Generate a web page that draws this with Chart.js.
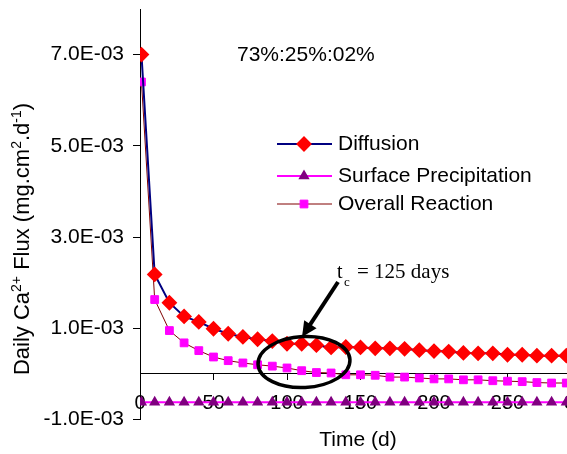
<!DOCTYPE html>
<html>
<head>
<meta charset="utf-8">
<script src="https://cdn.jsdelivr.net/npm/chart.js@4"></script>
<style>
  html, body { margin: 0; padding: 0; overflow: hidden; background: #fff; }
  #wrap { width: 600px; height: 454px; position: relative; }
</style>
</head>
<body>
<div id="wrap"><canvas id="chart"></canvas></div>
<script>
// time (d)
const days = [1, 10, 20, 30, 40, 50, 60, 70, 80, 90, 100, 110, 120, 130, 140, 150,
  160, 170, 180, 190, 200, 210, 220, 230, 240, 250, 260, 270, 280, 290, 300];

// daily Ca2+ flux (mg.cm2.d-1)
const diffusion = [7.00e-3, 2.18e-3, 1.56e-3, 1.26e-3, 1.14e-3, 0.99e-3, 0.88e-3, 0.81e-3,
  0.76e-3, 0.72e-3, 0.66e-3, 0.66e-3, 0.63e-3, 0.58e-3, 0.59e-3, 0.58e-3, 0.56e-3, 0.56e-3,
  0.55e-3, 0.52e-3, 0.50e-3, 0.49e-3, 0.46e-3, 0.45e-3, 0.45e-3, 0.42e-3, 0.42e-3, 0.40e-3,
  0.40e-3, 0.40e-3, 0.39e-3];
const surfacePrecipitation = [-0.62e-3, -0.62e-3, -0.62e-3, -0.62e-3, -0.62e-3, -0.62e-3,
  -0.62e-3, -0.62e-3, -0.62e-3, -0.62e-3, -0.62e-3, -0.62e-3, -0.62e-3, -0.62e-3, -0.62e-3,
  -0.62e-3, -0.62e-3, -0.62e-3, -0.62e-3, -0.62e-3, -0.62e-3, -0.62e-3, -0.62e-3, -0.62e-3,
  -0.62e-3, -0.62e-3, -0.62e-3, -0.62e-3, -0.62e-3, -0.62e-3, -0.62e-3];
const overallReaction = [6.40e-3, 1.63e-3, 0.95e-3, 0.68e-3, 0.51e-3, 0.37e-3, 0.29e-3,
  0.24e-3, 0.20e-3, 0.17e-3, 0.13e-3, 0.07e-3, 0.03e-3, 0.02e-3, -0.02e-3, -0.02e-3,
  -0.03e-3, -0.07e-3, -0.07e-3, -0.09e-3, -0.11e-3, -0.11e-3, -0.13e-3, -0.13e-3, -0.15e-3,
  -0.16e-3, -0.17e-3, -0.19e-3, -0.20e-3, -0.20e-3, -0.22e-3];

const yTicks = [-1e-3, 1e-3, 3e-3, 5e-3, 7e-3];
const yTickLabels = ['-1.0E-03', '1.0E-03', '3.0E-03', '5.0E-03', '7.0E-03'];
const xTicks = [0, 50, 100, 150, 200, 250, 300];

const SANS = "'Liberation Sans', Arial, sans-serif";
const SERIF = "'Liberation Serif', 'Times New Roman', serif";

const toPoints = (vals) => vals.map((v, i) => ({ x: days[i], y: v }));

// texts, arrow, ellipse and legend on top of the plot
const overlay = {
  id: 'overlay',
  afterDraw(chart) {
    const ctx = chart.ctx;
    ctx.save();
    ctx.fillStyle = '#000';

    // y title with superscripts
    ctx.save();
    ctx.translate(29, 239);
    ctx.rotate(-Math.PI / 2);
    const parts = [
      ['Daily Ca', 0], ['2+', 1], [' Flux (mg.cm', 0], ['2', 1], ['.d', 0], ['-1', 1], [')', 0]
    ];
    let total = 0;
    parts.forEach(([t, sup]) => {
      ctx.font = (sup ? '14px ' : '22px ') + SANS;
      total += ctx.measureText(t).width;
    });
    let px = -total / 2;
    ctx.textBaseline = 'alphabetic';
    parts.forEach(([t, sup]) => {
      ctx.font = (sup ? '14px ' : '22px ') + SANS;
      ctx.fillText(t, px, sup ? -8 : 0);
      px += ctx.measureText(t).width;
    });
    ctx.restore();

    // x title
    ctx.font = '21px ' + SANS;
    ctx.textAlign = 'center';
    ctx.textBaseline = 'middle';
    ctx.fillText('Time (d)', 358, 440);

    // ratio text
    ctx.textAlign = 'left';
    ctx.font = '21px ' + SANS;
    ctx.fillText('73%:25%:02%', 237, 55);

    // t_c label
    ctx.textBaseline = 'alphabetic';
    ctx.font = '20px ' + SERIF;
    ctx.fillText('t', 337, 278);
    ctx.font = '13px ' + SERIF;
    ctx.fillText('c', 344, 286);
    ctx.font = '21px ' + SERIF;
    ctx.fillText('= 125 days', 357, 278);

    // arrow
    const x0 = 338, y0 = 282, x1 = 302, y1 = 337;
    const ang = Math.atan2(y1 - y0, x1 - x0);
    const head = 17;
    ctx.strokeStyle = '#000';
    ctx.lineWidth = 4;
    ctx.beginPath();
    ctx.moveTo(x0, y0);
    ctx.lineTo(x1 - Math.cos(ang) * head * 0.8, y1 - Math.sin(ang) * head * 0.8);
    ctx.stroke();
    ctx.beginPath();
    ctx.moveTo(x1, y1);
    ctx.lineTo(x1 - head * Math.cos(ang - 0.45), y1 - head * Math.sin(ang - 0.45));
    ctx.lineTo(x1 - head * Math.cos(ang + 0.45), y1 - head * Math.sin(ang + 0.45));
    ctx.closePath();
    ctx.fill();

    // ellipse
    ctx.lineWidth = 3.5;
    ctx.beginPath();
    ctx.ellipse(304, 362, 46, 25.5, -0.05, 0, Math.PI * 2);
    ctx.stroke();

    // legend
    const rows = [144, 176, 204];
    chart.data.datasets.forEach((ds, i) => {
      const y = rows[i];
      ctx.strokeStyle = ds.borderColor;
      ctx.lineWidth = ds.borderWidth;
      ctx.beginPath();
      ctx.moveTo(277, y);
      ctx.lineTo(332, y);
      ctx.stroke();
      ctx.fillStyle = ds.pointBackgroundColor;
      ctx.strokeStyle = ds.pointBorderColor;
      Chart.helpers.drawPoint(ctx, {
        pointStyle: ds.pointStyle, radius: ds.pointRadius, rotation: 0, borderWidth: 1
      }, 304, y);
      ctx.fillStyle = '#000';
      ctx.font = '21px ' + SANS;
      ctx.textAlign = 'left';
      ctx.textBaseline = 'middle';
      ctx.fillText(ds.label, 338, y);
    });
    ctx.restore();
  }
};

new Chart(document.getElementById('chart'), {
  type: 'line',
  data: {
    datasets: [
      {
        label: 'Diffusion',
        data: toPoints(diffusion),
        borderColor: '#000080',
        borderWidth: 2,
        pointStyle: 'rectRot',
        pointRadius: 6.5,
        pointBackgroundColor: '#ff0000',
        pointBorderColor: '#ff0000',
      },
      {
        label: 'Surface Precipitation',
        data: toPoints(surfacePrecipitation),
        borderColor: '#ff00ff',
        borderWidth: 2,
        pointStyle: 'triangle',
        pointRadius: 4.5,
        pointBackgroundColor: '#800080',
        pointBorderColor: '#800080',
      },
      {
        label: 'Overall Reaction',
        data: toPoints(overallReaction),
        borderColor: '#800000',
        borderWidth: 1,
        pointStyle: 'rect',
        pointRadius: 5.5,
        pointBackgroundColor: '#ff00ff',
        pointBorderColor: '#ff00ff',
      },
    ],
  },
  options: {
    responsive: true,
    maintainAspectRatio: false,
    animation: false,
    layout: { padding: { left: 0, top: 9, right: 19, bottom: 34.5 } },
    plugins: { legend: { display: false }, tooltip: { enabled: false } },
    elements: { line: { tension: 0 }, point: { borderWidth: 1 } },
    scales: {
      x: {
        type: 'linear',
        position: { y: 0 },
        min: 0,
        max: 300,
        afterBuildTicks: (s) => { s.ticks = xTicks.map((v) => ({ value: v })); },
        afterFit: (s) => { s.height = 0; s.paddingLeft = 0; s.paddingRight = 0; },
        ticks: {
          color: '#000', font: { size: 20, family: SANS }, padding: 12,
          maxRotation: 0, autoSkip: false,
        },
        grid: { drawOnChartArea: false, tickLength: 6, color: '#000' },
        border: { color: '#000', width: 1 },
      },
      y: {
        type: 'linear',
        min: -1e-3,
        max: 8e-3,
        afterBuildTicks: (s) => { s.ticks = yTicks.map((v) => ({ value: v })); },
        afterFit: (s) => { s.width = 140; s.paddingTop = 0; s.paddingBottom = 0; },
        ticks: {
          color: '#000',
          font: { size: 21, family: SANS },
          padding: 9,
          callback: (v, i) => yTickLabels[i],
        },
        grid: { drawOnChartArea: false, tickLength: 7, color: '#000' },
        border: { color: '#000', width: 1 },
      },
    },
  },
  plugins: [overlay],
});
</script>
</body>
</html>
